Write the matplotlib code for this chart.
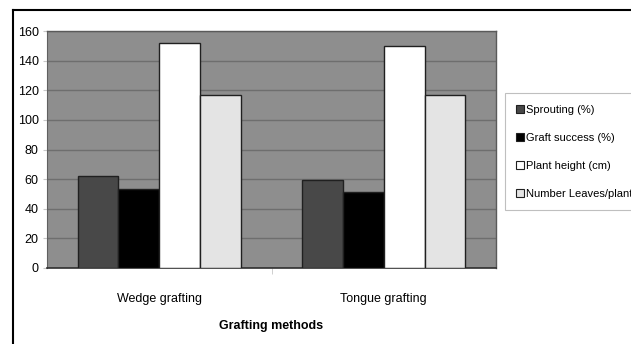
import numpy as np
import matplotlib.pyplot as plt
from matplotlib.lines import Line2D

# grafting method comparison
methods = ['Wedge grafting', 'Tongue grafting']
series = ['Sprouting (%)', 'Graft success (%)', 'Plant height (cm)', 'Number Leaves/plant']
sprouting = [62, 59.5]
graft_success = [53, 51]
plant_height = [152, 150]
leaves = [116.5, 116.5]
yticks = [0, 20, 40, 60, 80, 100, 120, 140, 160]

values = [sprouting, graft_success, plant_height, leaves]
colors = ['#484848', '#000000', '#ffffff', '#e4e4e4']

plt.rcParams['font.family'] = ['Liberation Sans Narrow', 'Liberation Sans', 'DejaVu Sans']

fig = plt.figure(figsize=(6.31, 3.44), dpi=100)
ax = fig.add_axes([47 / 631, 1 - 268 / 344, 449 / 631, 237 / 344])

x = np.arange(len(methods))
width = 1 / 5.5  # Excel-style gap width of 150%
for i, (vals, col) in enumerate(zip(values, colors)):
    ax.bar(x + (i - 1.5) * width, vals, width, color=col, edgecolor='#202020',
           linewidth=1.0, label=series[i], zorder=3)

ax.set_facecolor('#8e8e8e')
ax.set_xlim(-0.5, 1.5)
ax.set_ylim(0, 160)
ax.set_yticks(yticks)
ax.set_yticklabels([str(t) for t in yticks], fontsize=9)
ax.yaxis.grid(True, color='#6e6e6e', linewidth=1.0, zorder=0)
ax.set_xticks(x)
ax.set_xticklabels(methods, fontsize=9)
ax.set_xticks([0.5], minor=True)
ax.tick_params(axis='x', which='major', length=0, pad=18)
ax.tick_params(axis='x', which='minor', length=4, color='#c8c8c8')
ax.tick_params(axis='y', length=3, color='#c8c8c8', pad=3)
ax.set_xlabel('Grafting methods', fontsize=9, fontweight='bold', labelpad=11)

for side in ['top', 'right']:
    ax.spines[side].set_color('#5a5a5a')
    ax.spines[side].set_linewidth(1.0)
ax.spines['left'].set_color('#606060')
ax.spines['bottom'].set_color('#303030')
ax.spines['bottom'].set_linewidth(1.2)

handles = [Line2D([0], [0], marker='s', linestyle='none', markersize=6,
                  markerfacecolor=c, markeredgecolor='#202020', markeredgewidth=0.8)
           for c in colors]
leg = fig.legend(handles, series, loc='upper left', bbox_to_anchor=(505 / 631, 1 - 93 / 344),
                 fontsize=8, frameon=True, fancybox=False, handlelength=0.6,
                 handletextpad=0.2, labelspacing=1.62, borderpad=1.05, borderaxespad=0)
leg.get_frame().set_edgecolor('#b0b0b0')
leg.get_frame().set_linewidth(0.8)

# outer chart frame: left and top edges only
fig.add_artist(Line2D([12.5 / 631, 12.5 / 631], [0, 1 - 9.5 / 344], color='black', lw=1.5))
fig.add_artist(Line2D([12.5 / 631, 1], [1 - 9.5 / 344, 1 - 9.5 / 344], color='black', lw=1.5))

fig.savefig('out.png', dpi=100)
